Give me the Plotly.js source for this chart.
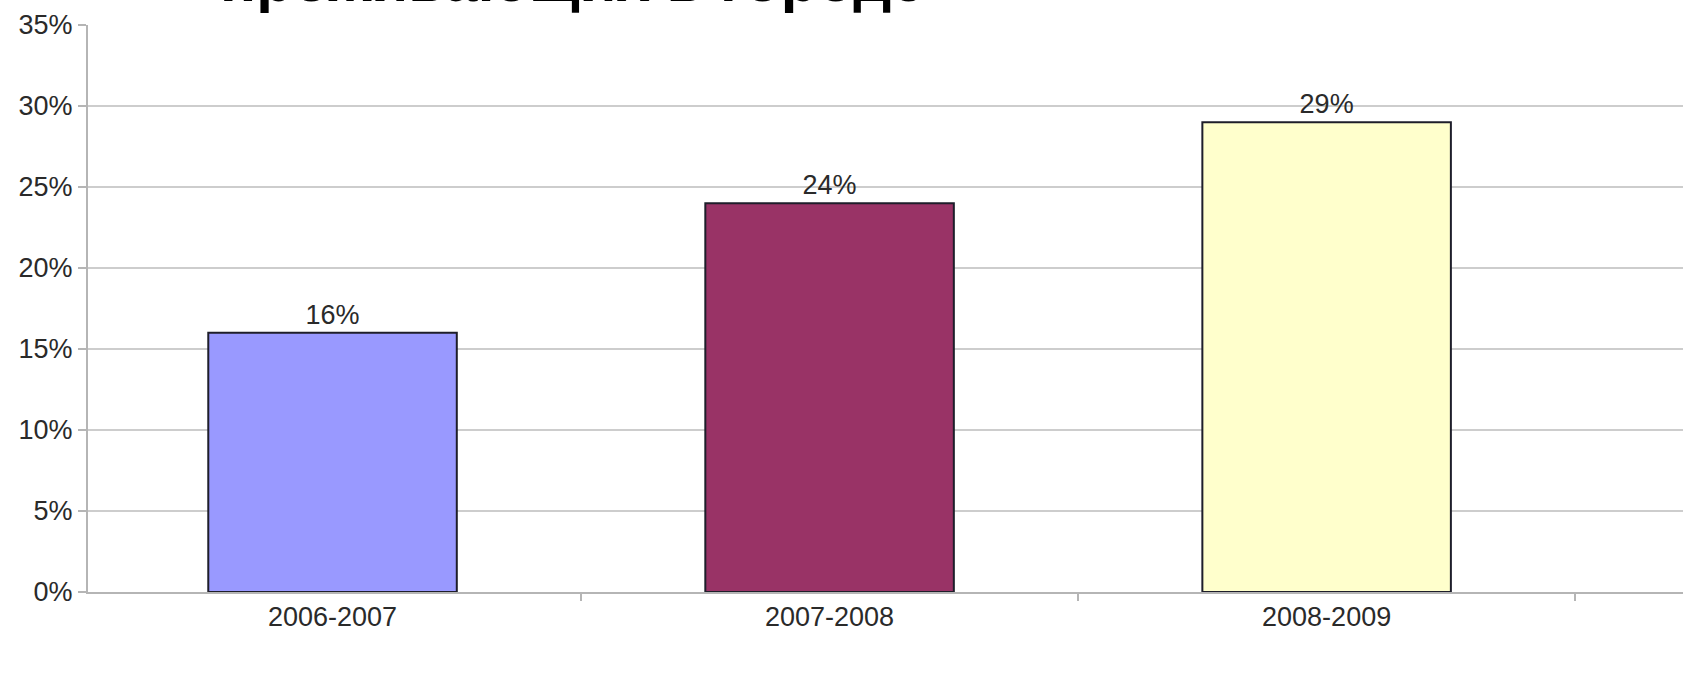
<!DOCTYPE html>
<html>
<head>
<meta charset="utf-8">
<script src="https://cdn.plot.ly/plotly-3.0.1.min.js"></script>
<style>html,body{margin:0;padding:0;background:#fff;}#chart{width:1683px;height:681px;}</style>
</head>
<body>
<div id="chart"></div>
<script>
const categories = ["2006-2007", "2007-2008", "2008-2009"];
const values = [16, 24, 29];
const labels = ["16%", "24%", "29%"];
const barColors = ["#9999ff", "#993366", "#ffffcc"];
const titleText = "проживающих в городе";

const trace = {
  type: "bar",
  x: categories,
  y: values,
  text: labels,
  textposition: "outside",
  textfont: {family: "Liberation Sans, Arial, sans-serif", size: 27, color: "#2a2a2a"},
  cliponaxis: false,
  marker: {color: barColors, line: {color: "#1e1e2a", width: 2}},
  hoverinfo: "none"
};

const layout = {
  width: 1683, height: 681,
  margin: {l: 88, r: 0, t: 25, b: 89, pad: 0},
  paper_bgcolor: "#ffffff",
  plot_bgcolor: "#ffffff",
  bargap: 0.5,
  showlegend: false,
  font: {family: "Liberation Sans, Arial, sans-serif", size: 27, color: "#2a2a2a"},
  annotations: [{
    text: "<b>" + titleText + "</b>",
    font: {family: "Liberation Sans, Arial, sans-serif", size: 60, color: "#000"},
    xref: "paper", yref: "paper",
    x: (218 - 88) / 1595, xanchor: "left",
    y: 1 + 9 / 567, yanchor: "bottom",
    showarrow: false
  }],
  xaxis: {
    type: "category",
    range: [-0.492, 2.717],
    tickson: "boundaries",
    ticks: "outside", ticklen: 7, tickcolor: "#b5b5b5", tickwidth: 1.5,
    showline: true, linecolor: "#b5b5b5", linewidth: 2,
    showgrid: false,
    tickfont: {size: 27, color: "#2a2a2a"},
    fixedrange: true
  },
  yaxis: {
    range: [0, 35],
    dtick: 5,
    ticksuffix: "%",
    ticks: "outside", ticklen: 8, tickcolor: "#b5b5b5", tickwidth: 1.5,
    showline: true, linecolor: "#b5b5b5", linewidth: 2,
    showgrid: true, gridcolor: "#cdcdcd", gridwidth: 1.5,
    zeroline: false,
    tickfont: {size: 27, color: "#2a2a2a"},
    fixedrange: true
  }
};

Plotly.newPlot("chart", [trace], layout, {displayModeBar: false, staticPlot: true});
</script>
</body>
</html>
